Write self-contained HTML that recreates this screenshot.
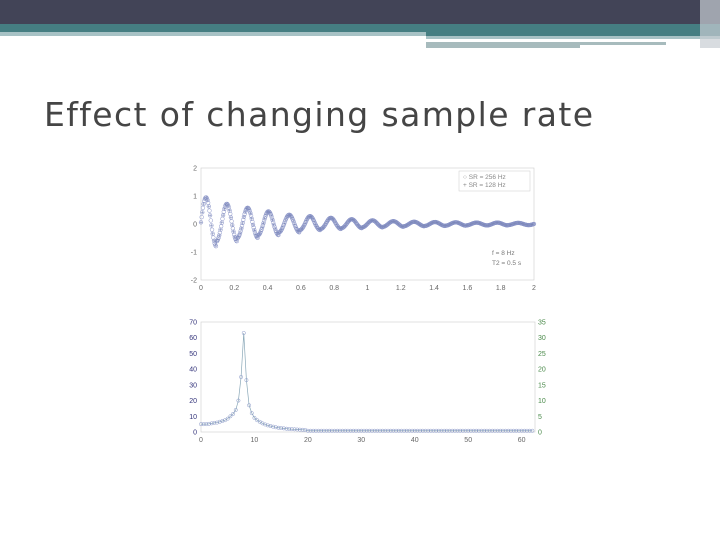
<!DOCTYPE html>
<html><head><meta charset="utf-8"><style>
body{margin:0;width:720px;height:540px;background:#fff;overflow:hidden;font-family:"Liberation Sans",sans-serif;position:relative}
.abs{position:absolute}
</style></head><body>
<div class="abs" style="left:0;top:0;width:720px;height:24px;background:#424457"></div>
<div class="abs" style="left:0;top:24px;width:720px;height:8px;background:#457e82"></div>
<div class="abs" style="left:426px;top:32px;width:294px;height:4px;background:#457e82"></div>
<div class="abs" style="left:0;top:32px;width:426px;height:4px;background:#a7c2c5"></div>
<div class="abs" style="left:426px;top:36px;width:294px;height:3px;background:#a7c2c5"></div>
<div class="abs" style="left:426px;top:42px;width:240px;height:3px;background:#a7bbbd"></div>
<div class="abs" style="left:426px;top:45px;width:154px;height:3px;background:#a7bbbd"></div>
<div class="abs" style="left:700px;top:0;width:20px;height:48px;background:#c8cdd3;opacity:.7"></div>
<div class="abs" style="left:44px;top:95px;font-family:'DejaVu Sans',sans-serif;font-size:33px;letter-spacing:1.4px;color:#454545;white-space:nowrap">Effect of changing sample rate</div>
<svg class="abs" style="left:0;top:0" width="720" height="540">
<g id="top"></g>
<g id="bot"></g>
</svg>
<script>
const peakTimes=[0.03,0.155,0.28,0.405,0.53,0.655,0.78,0.905,1.03,1.155,1.28,1.405,1.53,1.655,1.78,1.905];
const peakValues=[0.95,0.72,0.58,0.45,0.33,0.28,0.22,0.17,0.13,0.10,0.08,0.07,0.06,0.05,0.05,0.04];
const troughValues=[-0.8,-0.62,-0.5,-0.4,-0.3,-0.22,-0.18,-0.15,-0.12,-0.1,-0.08,-0.07,-0.06,-0.05,-0.05,-0.04];
const topXTicks=["0","0.2","0.4","0.6","0.8","1","1.2","1.4","1.6","1.8","2"];
const topYTicks=["-2","-1","0","1","2"];
const specBins=[5,5,5,5.2,5.5,5.8,6,6.5,7,7.5,8.5,10,11.5,14,20,35,63,33,17,12,9,7.5,6.5,5.5,4.8,4.2,3.8,3.4,3,2.7,2.5,2.3,2.1,1.9,1.8,1.7,1.6,1.5,1.4,1.3];
const specTail=0.8;
const botXTicks=["0","10","20","30","40","50","60"];
const botYTicks=["0","10","20","30","40","50","60","70"];
const botY2Ticks=["0","5","10","15","20","25","30","35"];
const NS="http://www.w3.org/2000/svg";
function mk(p,t,a){const e=document.createElementNS(NS,t);for(const k in a)e.setAttribute(k,a[k]);p.appendChild(e);return e;}
const T=document.getElementById('top');
const tx=v=>201+v/2*333, ty=v=>224-v*28;
mk(T,'rect',{x:201,y:168,width:333,height:112,fill:'none',stroke:'#ccc','stroke-width':0.6});
topXTicks.forEach(s=>{const t=mk(T,'text',{x:tx(+s),y:290,'font-size':7,fill:'#666','text-anchor':'middle'});t.textContent=s;});
topYTicks.forEach(s=>{const t=mk(T,'text',{x:197,y:ty(+s)+2.5,'font-size':7,fill:'#666','text-anchor':'end'});t.textContent=s;});
function sig(t){const per=0.125;let ph=((t-peakTimes[0])/per)*2*Math.PI;let i=Math.min(Math.max(Math.round((t-peakTimes[0])/per),0),15);const c=Math.cos(ph);return c>=0?c*peakValues[i]:-c*troughValues[i];}
for(let i=0;i<=512;i++){const t=i/256;const v=sig(t);const c=mk(T,'circle',{cx:tx(t),cy:ty(v),r:1.9,fill:'none',stroke:'#8a94c8','stroke-width':0.5});}
for(let i=0;i<=256;i++){const t=i/128;const v=sig(t);const p=mk(T,'path',{d:`M${tx(t)-1.5},${ty(v)}h3M${tx(t)},${ty(v)-1.5}v3`,stroke:'#7a86b8','stroke-width':0.5});}
const lg=mk(T,'rect',{x:459,y:171,width:71,height:20,fill:'#fff',stroke:'#ccc','stroke-width':0.5});
[['○  SR = 256 Hz',179],['+  SR = 128 Hz',187]].forEach(a=>{const t=mk(T,'text',{x:463,y:a[1],'font-size':6.5,fill:'#888'});t.textContent=a[0];});
[['f = 8 Hz',255],['T2 = 0.5 s',265]].forEach(a=>{const t=mk(T,'text',{x:492,y:a[1],'font-size':6.5,fill:'#777'});t.textContent=a[0];});
const B=document.getElementById('bot');
const bx=v=>201+v/62.5*334, by=v=>432-v/70*110;
mk(B,'rect',{x:201,y:322,width:334,height:110,fill:'none',stroke:'#ccc','stroke-width':0.6});
botXTicks.forEach(s=>{const t=mk(B,'text',{x:bx(+s),y:442,'font-size':7,fill:'#666','text-anchor':'middle'});t.textContent=s;});
botYTicks.forEach(s=>{const t=mk(B,'text',{x:197,y:by(+s)+2.5,'font-size':7,fill:'#33337a','text-anchor':'end'});t.textContent=s;});
botY2Ticks.forEach(s=>{const t=mk(B,'text',{x:538,y:by(+s*2)+2.5,'font-size':7,fill:'#4a8a4a'});t.textContent=s;});
let pts=[];
for(let i=0;i<=124;i++){const f=i*0.5;const v=i<specBins.length?specBins[i]:specTail;pts.push([bx(f),by(v)]);}
const ln=mk(B,'polyline',{points:pts.map(p=>p.join(',')).join(' '),fill:'none',stroke:'#8aa8b8','stroke-width':0.7});
pts.forEach(p=>{const c=mk(B,'circle',{cx:p[0],cy:p[1],r:1.7,fill:'none',stroke:'#8a98c8','stroke-width':0.5});});
</script>
</body></html>
